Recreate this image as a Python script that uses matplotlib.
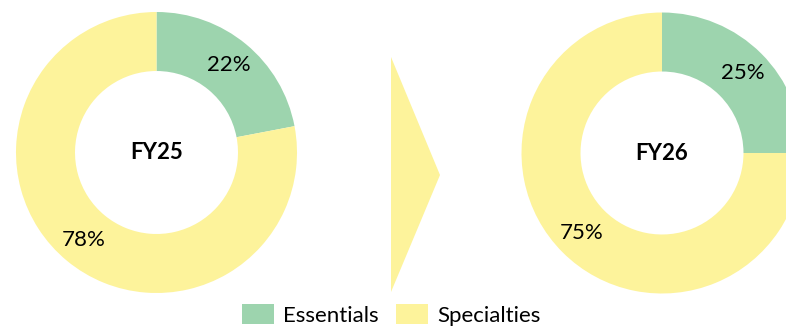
import matplotlib
matplotlib.use('Agg')
import matplotlib.pyplot as plt
from matplotlib.patches import Polygon

# data
segments = ['Essentials', 'Specialties']
fy25_values = [22, 78]
fy26_values = [25, 75]
years = ['FY25', 'FY26']
colors = ['#9dd4ae', '#fdf39b']

plt.rcParams['font.family'] = ['Lato', 'DejaVu Sans']

W, H = 786, 327
fig = plt.figure(figsize=(W / 100, H / 100), dpi=100)

R = 140.5  # outer radius in pixels


def donut(cx, cy, values, title):
    # cx, cy in pixels from top-left
    ax = fig.add_axes([(cx - R) / W, (H - cy - R) / H, 2 * R / W, 2 * R / H])
    wedges, texts, autotexts = ax.pie(
        values, colors=colors, startangle=90, counterclock=False,
        radius=1, wedgeprops=dict(width=0.42, linewidth=0),
        autopct='%d%%', pctdistance=0.81,
        textprops=dict(fontsize=16, color='black'))
    ax.text(0, 0, title, ha='center', va='center', fontsize=16, fontweight='bold')
    ax.set_xlim(-1, 1)
    ax.set_ylim(-1, 1)
    ax.set_aspect('auto')
    ax.axis('off')
    return wedges


wedges = donut(156.5, 152.5, fy25_values, years[0])
donut(662, 153, fy26_values, years[1])

# arrow between the two donuts
overlay = fig.add_axes([0, 0, 1, 1], zorder=-1)
overlay.set_xlim(0, W)
overlay.set_ylim(H, 0)
overlay.axis('off')
overlay.add_patch(Polygon([(391, 57), (440, 175), (391, 292)], closed=True,
                          facecolor=colors[1], edgecolor='none'))

fig.legend(wedges, segments, loc='upper center', bbox_to_anchor=(391 / W, 1 - 293 / H),
           ncol=2, frameon=False, fontsize=16, borderpad=0,
           handlelength=1.45, handleheight=1.0, handletextpad=0.4,
           columnspacing=0.8)

fig.savefig('out.png', dpi=100)
